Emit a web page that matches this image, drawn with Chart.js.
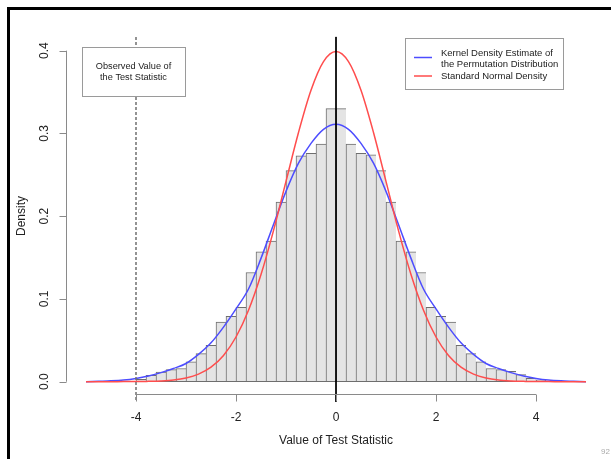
<!DOCTYPE html>
<html>
<head>
<meta charset="utf-8">
<script src="https://cdn.jsdelivr.net/npm/chart.js@4.4.1/dist/chart.umd.min.js"></script>
<style>
  body { margin: 0; background: #fff; }
  #frame { position: absolute; left: 7px; top: 7px; width: 700px; height: 600px;
           border-top: 3px solid #000; border-left: 3px solid #000; }
  #wrap { position: absolute; left: 0; top: 0; width: 611px; height: 459px; overflow: hidden; }
  #myChart { position: absolute; left: 0; top: 0; }
  #pageNo { position: absolute; left: 601px; top: 447px; font: 8px "Liberation Sans", Arial, sans-serif; color: #aaa; }
</style>
</head>
<body>
<div id="wrap">
  <div id="frame"></div>
  <canvas id="myChart" width="611" height="459"></canvas>
  <span id="pageNo">92</span>
</div>
<script>
// histogram: bin centres (width 0.2) and densities
const binCentres = [-3.9, -3.7, -3.5, -3.3, -3.1, -2.9, -2.7, -2.5, -2.3, -2.1,
  -1.9, -1.7, -1.5, -1.3, -1.1, -0.9, -0.7, -0.5, -0.3, -0.1,
  0.1, 0.3, 0.5, 0.7, 0.9, 1.1, 1.3, 1.5, 1.7, 1.9,
  2.1, 2.3, 2.5, 2.7, 2.9, 3.1, 3.3, 3.5, 3.7, 3.9, 4.1];
const binDensity = [0.003, 0.0077, 0.0117, 0.0145, 0.016, 0.024, 0.034, 0.044, 0.072, 0.079,
  0.090, 0.132, 0.157, 0.170, 0.217, 0.255, 0.273, 0.276, 0.287, 0.330,
  0.330, 0.287, 0.276, 0.274, 0.255, 0.217, 0.170, 0.157, 0.132, 0.090,
  0.079, 0.072, 0.044, 0.034, 0.024, 0.016, 0.0145, 0.0125, 0.0085, 0.004, 0.002];

// curves, read at x = -5 .. 5 every 0.25
const curveX = [-5, -4.75, -4.5, -4.25, -4, -3.75, -3.5, -3.25, -3, -2.75, -2.5, -2.25, -2,
  -1.75, -1.5, -1.25, -1, -0.75, -0.5, -0.25, 0, 0.25, 0.5, 0.75, 1, 1.25, 1.5, 1.75,
  2, 2.25, 2.5, 2.75, 3, 3.25, 3.5, 3.75, 4, 4.25, 4.5, 4.75, 5];
const kdeDensity = [0.000, 0.0005, 0.001, 0.002, 0.004, 0.007, 0.011, 0.016, 0.022, 0.033,
  0.047, 0.066, 0.088, 0.112, 0.149, 0.190, 0.230, 0.264, 0.288, 0.305, 0.311,
  0.305, 0.288, 0.264, 0.230, 0.190, 0.149, 0.112, 0.088, 0.066, 0.047, 0.033,
  0.022, 0.016, 0.011, 0.007, 0.004, 0.002, 0.001, 0.0005, 0.000];
const normalDensity = [0.000, 0.000, 0.000, 0.0001, 0.0001, 0.0004, 0.0009, 0.002, 0.0044, 0.0091,
  0.0175, 0.0317, 0.054, 0.0863, 0.1295, 0.1826, 0.242, 0.3011, 0.3521, 0.3867, 0.3989,
  0.3867, 0.3521, 0.3011, 0.242, 0.1826, 0.1295, 0.0863, 0.054, 0.0317, 0.0175, 0.0091,
  0.0044, 0.002, 0.0009, 0.0004, 0.0001, 0.0001, 0.000, 0.000, 0.000];

// reference lines
const observedValue = -4;
const centreValue = 0;

// axes
const xTicks = [-4, -2, 0, 2, 4];
const xTickLabels = ['-4', '-2', '0', '2', '4'];
const yTicks = [0, 0.1, 0.2, 0.3, 0.4];
const yTickLabels = ['0.0', '0.1', '0.2', '0.3', '0.4'];
const xTitle = 'Value of Test Statistic';
const yTitle = 'Density';
const legendLabels = [['Kernel Density Estimate of', 'the Permutation Distribution'], ['Standard Normal Density']];
const boxText = ['Observed Value of', 'the Test Statistic'];

const FONT = '"Liberation Sans", Arial, Helvetica, sans-serif';
const blue = '#4d4dff';
const red = '#ff4d4d';
const axisColour = '#8a8a8a';

// the vertical lines span a bit below the x axis, like R's abline
const lineTop = 0.4166, lineBottom = -0.0245;

const rAxes = {
  id: 'rAxes',
  afterDatasetsDraw(chart) {
    const ctx = chart.ctx;
    const a = chart.chartArea;
    const x = chart.scales.x, y = chart.scales.y;
    ctx.save();
    ctx.strokeStyle = axisColour;
    ctx.lineWidth = 1;
    ctx.fillStyle = '#222';

    // x axis
    const yb = Math.round(a.bottom) - 0.5;
    ctx.beginPath();
    ctx.moveTo(x.getPixelForValue(xTicks[0]), yb);
    ctx.lineTo(x.getPixelForValue(xTicks[xTicks.length - 1]), yb);
    xTicks.forEach(v => {
      const px = Math.round(x.getPixelForValue(v)) + 0.5;
      ctx.moveTo(px, yb);
      ctx.lineTo(px, yb + 7);
    });
    ctx.stroke();
    ctx.font = '12px ' + FONT;
    ctx.textAlign = 'center';
    ctx.textBaseline = 'middle';
    xTicks.forEach((v, i) => ctx.fillText(xTickLabels[i], x.getPixelForValue(v), yb + 23));
    ctx.fillText(xTitle, (a.left + a.right) / 2, yb + 46);

    // y axis
    const xl = Math.round(a.left) + 0.5;
    ctx.beginPath();
    ctx.moveTo(xl, y.getPixelForValue(yTicks[0]));
    ctx.lineTo(xl, y.getPixelForValue(yTicks[yTicks.length - 1]));
    yTicks.forEach(v => {
      const py = Math.round(y.getPixelForValue(v)) + 0.5;
      ctx.moveTo(xl, py);
      ctx.lineTo(xl - 7, py);
    });
    ctx.stroke();
    yTicks.forEach((v, i) => {
      ctx.save();
      ctx.translate(xl - 22, y.getPixelForValue(v));
      ctx.rotate(-Math.PI / 2);
      ctx.fillText(yTickLabels[i], 0, 0);
      ctx.restore();
    });
    ctx.save();
    ctx.translate(xl - 45, (a.top + a.bottom) / 2);
    ctx.rotate(-Math.PI / 2);
    ctx.fillText(yTitle, 0, 0);
    ctx.restore();

    // observed value box
    ctx.strokeStyle = '#9a9a9a';
    ctx.fillStyle = '#fff';
    ctx.fillRect(82, 47, 103, 49);
    ctx.strokeRect(82.5, 47.5, 103, 49);
    ctx.fillStyle = '#222';
    ctx.font = '9.2px ' + FONT;
    ctx.fillText(boxText[0], 133.5, 66);
    ctx.fillText(boxText[1], 133.5, 77);

    // legend
    ctx.fillStyle = '#fff';
    ctx.fillRect(405, 38, 158, 51);
    ctx.strokeRect(405.5, 38.5, 158, 51);
    ctx.lineWidth = 1.5;
    ctx.strokeStyle = blue;
    ctx.beginPath(); ctx.moveTo(414, 57.5); ctx.lineTo(432, 57.5); ctx.stroke();
    ctx.strokeStyle = red;
    ctx.beginPath(); ctx.moveTo(414, 76); ctx.lineTo(432, 76); ctx.stroke();
    ctx.fillStyle = '#222';
    ctx.font = '9.5px ' + FONT;
    ctx.textAlign = 'left';
    ctx.fillText(legendLabels[0][0], 441, 53);
    ctx.fillText(legendLabels[0][1], 441, 64);
    ctx.fillText(legendLabels[1][0], 441, 76);
    ctx.restore();
  }
};

const last = binCentres.length - 1;

new Chart(document.getElementById('myChart').getContext('2d'), {
  type: 'bar',
  data: {
    datasets: [
      {
        type: 'line',
        data: [{ x: observedValue, y: lineTop }, { x: observedValue, y: lineBottom }],
        borderColor: '#707070', borderWidth: 1.5, borderDash: [3, 2],
        pointRadius: 0, clip: false, order: 0
      },
      {
        type: 'line',
        data: [{ x: centreValue, y: lineTop }, { x: centreValue, y: lineBottom }],
        borderColor: '#000', borderWidth: 1,
        pointRadius: 0, clip: false, order: 0
      },
      {
        type: 'line',
        data: curveX.map((v, i) => ({ x: v, y: normalDensity[i] })),
        borderColor: red, borderWidth: 1.5, pointRadius: 0,
        cubicInterpolationMode: 'monotone', order: 1
      },
      {
        type: 'line',
        data: curveX.map((v, i) => ({ x: v, y: kdeDensity[i] })),
        borderColor: blue, borderWidth: 1.5, pointRadius: 0,
        cubicInterpolationMode: 'monotone', order: 2
      },
      {
        type: 'bar',
        data: binCentres.map((v, i) => ({ x: v, y: binDensity[i] })),
        backgroundColor: '#e4e4e4',
        borderColor: '#6e6e6e',
        borderWidth: c => ({ top: 1, left: 1, bottom: 1, right: c.dataIndex === last ? 1 : 0 }),
        borderSkipped: false,
        barPercentage: 1, categoryPercentage: 1, grouped: false,
        order: 3
      }
    ]
  },
  options: {
    responsive: false,
    animation: false,
    devicePixelRatio: 1,
    layout: { padding: { left: 66, right: 5, top: 37, bottom: 64 } },
    scales: {
      x: { type: 'linear', min: -5.4, max: 5.4, offset: false, display: false },
      y: { type: 'linear', min: -0.01607, max: 0.4165, display: false }
    },
    plugins: { legend: { display: false }, tooltip: { enabled: false } }
  },
  plugins: [rAxes]
});
</script>
</body>
</html>
